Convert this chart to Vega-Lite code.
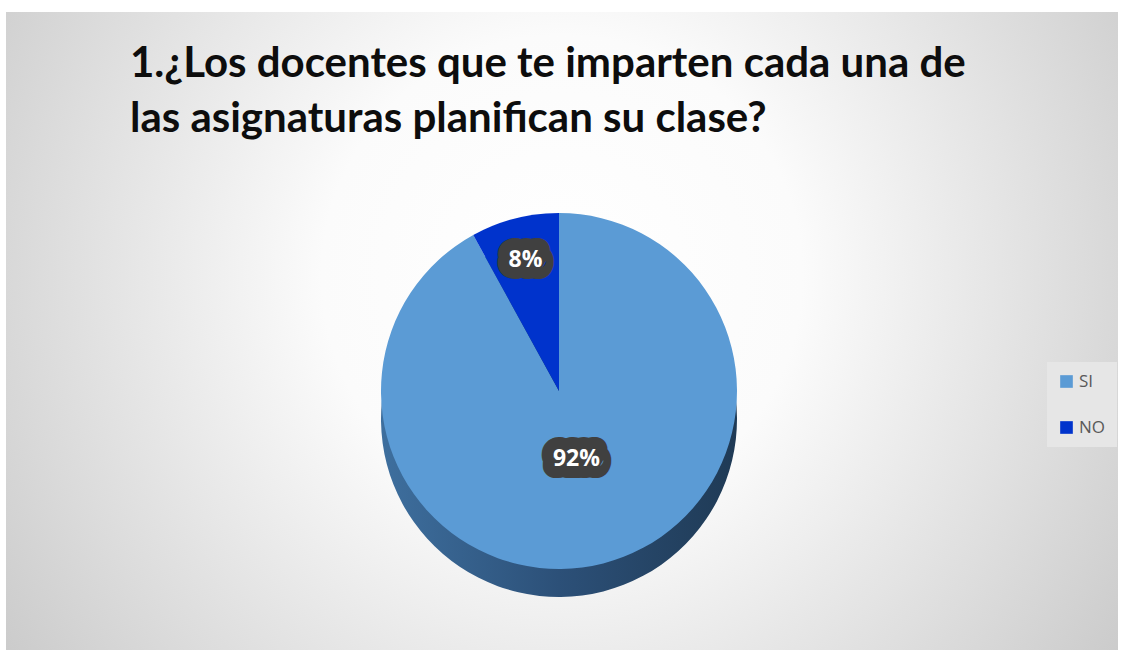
{
  "$schema": "https://vega.github.io/schema/vega-lite/v6.json",
  "autosize": {"type": "fit", "contains": "padding"},
  "width": 1123,
  "height": 658,
  "padding": {"left": 6, "top": 12, "right": 5, "bottom": 8},
  "background": "#ffffff",
  "view": {
    "stroke": null,
    "fill": {
      "gradient": "radial",
      "x1": 0.5, "y1": 0.45, "r1": 0,
      "x2": 0.5, "y2": 0.45, "r2": 0.72,
      "stops": [
        {"offset": 0, "color": "#ffffff"},
        {"offset": 0.3, "color": "#fbfbfb"},
        {"offset": 1, "color": "#bdbdbd"}
      ]
    }
  },
  "title": {
    "text": ["1.¿Los docentes que te imparten cada una de", "las asignaturas planifican su clase?"],
    "anchor": "start",
    "frame": "group",
    "orient": "top",
    "dx": 124,
    "offset": -129,
    "font": "Lato",
    "fontSize": 42,
    "fontWeight": "bold",
    "color": "#0d0d0d",
    "lineHeight": 55
  },
  "data": {
    "values": [
      {"respuesta": "SI", "porcentaje": 92, "etiqueta": "92%"},
      {"respuesta": "NO", "porcentaje": 8, "etiqueta": "8%"}
    ]
  },
  "encoding": {
    "theta": {"field": "porcentaje", "type": "quantitative", "stack": true},
    "order": {"field": "respuesta", "sort": "descending"}
  },
  "layer": [
    {
      "mark": {
        "type": "arc",
        "outerRadius": 178,
        "yOffset": 88,
        "xOffset": -3,
        "fill": {
          "gradient": "linear",
          "x1": 0, "y1": 0, "x2": 1, "y2": 0,
          "stops": [
            {"offset": 0, "color": "#3e6f9e"},
            {"offset": 0.5, "color": "#2c5078"},
            {"offset": 1, "color": "#1f3a55"}
          ]
        }
      }
    },
    {
      "mark": {"type": "arc", "outerRadius": 178, "yOffset": 60, "xOffset": -3},
      "encoding": {
        "color": {
          "field": "respuesta",
          "type": "nominal",
          "scale": {"domain": ["SI", "NO"], "range": ["#5b9bd5", "#0033cc"]},
          "legend": {
            "title": null,
            "orient": "none",
            "legendX": 1041,
            "legendY": 350,
            "fillColor": "#e6e6e6",
            "padding": 11,
            "symbolType": "square",
            "symbolSize": 160,
            "symbolStrokeWidth": 0,
            "labelFont": "Open Sans",
            "labelFontSize": 17,
            "labelColor": "#595959",
            "rowPadding": 28,
            "labelOffset": 4
          }
        }
      }
    },
    {
      "mark": {"type": "text", "radius": 135, "yOffset": 60, "xOffset": -3, "font": "Open Sans", "fontSize": 23, "fontWeight": "bold", "fill": "#404040", "stroke": "#404040", "strokeWidth": 24, "strokeJoin": "round"},
      "encoding": {
        "text": {"field": "etiqueta"},
        "opacity": {"condition": {"test": "datum.respuesta == 'NO'", "value": 1}, "value": 0}
      }
    },
    {
      "mark": {"type": "text", "radius": 135, "yOffset": 60, "xOffset": -3, "font": "Open Sans", "fontSize": 23, "fontWeight": "bold", "fill": "#ffffff"},
      "encoding": {
        "text": {"field": "etiqueta"},
        "opacity": {"condition": {"test": "datum.respuesta == 'NO'", "value": 1}, "value": 0}
      }
    },
    {
      "mark": {"type": "text", "radius": 70, "yOffset": 60, "xOffset": -3, "font": "Open Sans", "fontSize": 23, "fontWeight": "bold", "fill": "#404040", "stroke": "#404040", "strokeWidth": 24, "strokeJoin": "round"},
      "encoding": {
        "text": {"field": "etiqueta"},
        "opacity": {"condition": {"test": "datum.respuesta == 'SI'", "value": 1}, "value": 0}
      }
    },
    {
      "mark": {"type": "text", "radius": 70, "yOffset": 60, "xOffset": -3, "font": "Open Sans", "fontSize": 23, "fontWeight": "bold", "fill": "#ffffff"},
      "encoding": {
        "text": {"field": "etiqueta"},
        "opacity": {"condition": {"test": "datum.respuesta == 'SI'", "value": 1}, "value": 0}
      }
    }
  ]
}
